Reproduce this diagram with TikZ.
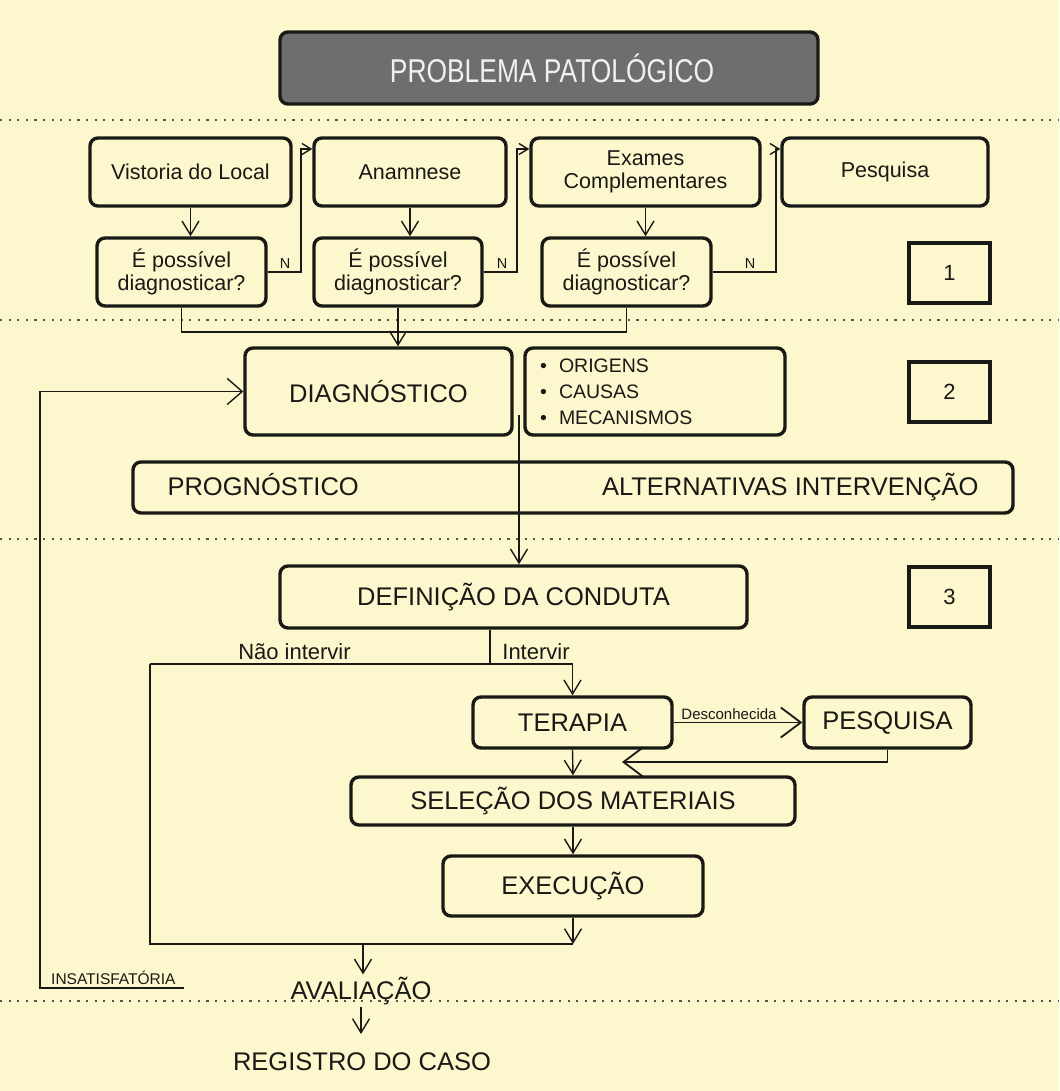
\documentclass[tikz,border=0pt]{standalone}
\usepackage{fontspec}
\setmainfont{Liberation Sans}
\newfontfamily\condfont[FakeStretch=0.8]{Liberation Sans}
\usetikzlibrary{arrows.meta,calc}
\definecolor{bg}{RGB}{252,247,205}
\definecolor{ink}{RGB}{25,25,22}
\definecolor{titlegray}{RGB}{110,110,110}
\definecolor{dotc}{RGB}{85,85,80}
\begin{document}
\begin{tikzpicture}[x=1pt,y=-1pt,
  box/.style={draw=ink, line width=3.4pt, rounded corners=8pt, align=center, inner sep=0pt, text=ink},
  numbox/.style={draw=ink, line width=3.4pt, inner sep=0pt, minimum width=81pt, minimum height=60pt, font=\fontsize{22}{24}\selectfont, text=ink},
  big/.style={font=\fontsize{25.5}{28}\selectfont},
  mid/.style={font=\fontsize{21.5}{23}\selectfont},
  lbl/.style={text=ink, inner sep=1pt},
  conn/.style={draw=ink, line width=1.4pt},
  arr/.style={conn, -{Straight Barb[length=14pt,width=17pt]}},
  arrsmall/.style={conn, -{Straight Barb[length=9pt,width=11pt]}},
  arrmid/.style={conn, -{Straight Barb[length=15pt,width=26pt]}},
  arrbig/.style={conn, line width=1.8pt, -{Straight Barb[length=20pt,width=30pt]}},
  dotline/.style={draw=dotc, line width=2.2pt, dash pattern=on 2.2pt off 6.4pt}
]
\useasboundingbox (0,0) rectangle (1059,1091);
\fill[bg] (0,0) rectangle (1059,1091);

% separators
\draw[dotline] (0,120) -- (1059,120);
\draw[dotline] (0,320) -- (1059,320);
\draw[dotline] (0,539) -- (1059,539);
\draw[dotline] (0,1001) -- (1059,1001);

% title
\node[box, fill=titlegray, text=white!94!black, minimum width=538pt, minimum height=72pt,
      font=\condfont\fontsize{33}{35}\selectfont] (title) at (549,68) {\hspace*{6pt}PROBLEMA PATOLÓGICO};

% row 1
\node[box, mid, minimum width=201pt, minimum height=68pt] (vis) at (190.5,172) {Vistoria do Local};
\node[box, mid, minimum width=192pt, minimum height=68pt] (ana) at (410,172) {Anamnese};
\node[box, mid, minimum width=229pt, minimum height=68pt] (exa) at (645.5,172) {Exames\\Complementares};
\node[box, mid, minimum width=206pt, minimum height=68pt] (pes) at (885,172) {Pesquisa};

\node[box, mid, minimum width=169pt, minimum height=68pt] (q1) at (181.5,272) {É possível\\diagnosticar?};
\node[box, mid, minimum width=168pt, minimum height=68pt] (q2) at (398,272) {É possível\\diagnosticar?};
\node[box, mid, minimum width=169pt, minimum height=68pt] (q3) at (626.5,272) {É possível\\diagnosticar?};

\node[numbox] (n1) at (949.5,273) {1};

\draw[arr] (vis.south) -- (vis.south |- q1.north);
\draw[arr] (ana.south) -- (ana.south |- q2.north);
\draw[arr] (exa.south) -- (exa.south |- q3.north);

\coordinate (b1) at (301,149);
\coordinate (b2) at (517,149);
\coordinate (b3) at (776,149);
\draw[arrsmall] (q1.east) -- (q1.east -| b1) -- (b1) -- (b1 -| ana.west);
\draw[arrsmall] (q2.east) -- (q2.east -| b2) -- (b2) -- (b2 -| exa.west);
\draw[arrsmall] (q3.east) -- (q3.east -| b3) -- (b3) -- (b3 -| pes.west);
\node[lbl, font=\fontsize{14.5}{15}\selectfont] (nl1) at (285,264) {N};
\node[lbl, font=\fontsize{14.5}{15}\selectfont] (nl2) at (502,264) {N};
\node[lbl, font=\fontsize{14.5}{15}\selectfont] (nl3) at (750,264) {N};

% merge to diagnostico
\coordinate (mrg) at (0,332);
\draw[conn] (q1.south) -- (q1.south |- mrg) -- (q3.south |- mrg) -- (q3.south);

% section 2
\node[box, big, minimum width=267pt, minimum height=87pt] (diag) at (378.5,391.5) {DIAGNÓSTICO};
\draw[arr] (q2.south) -- (q2.south |- diag.north);
\node[box, minimum width=260pt, minimum height=87pt, text width=230pt, align=left,
      font=\fontsize{19.5}{26}\selectfont] (orig) at (655,391.5)
  {\makebox[19pt][l]{\textbullet}ORIGENS\\\makebox[19pt][l]{\textbullet}CAUSAS\\\makebox[19pt][l]{\textbullet}MECANISMOS};
\node[numbox] (n2) at (949.5,392) {2};

\node[box, big, minimum width=880pt, minimum height=51pt] (prog) at (573,487.5)
  {\makebox[811pt]{PROGNÓSTICO\hfill ALTERNATIVAS INTERVENÇÃO}};

% section 3
\node[box, big, minimum width=467pt, minimum height=62pt] (def) at (513.5,597) {DEFINIÇÃO DA CONDUTA};
\node[numbox] (n3) at (949.5,597) {3};
\coordinate (dstart) at (519,415);
\draw[arr] (dstart) -- (dstart |- def.north);

\node[box, big, minimum width=199pt, minimum height=51pt] (ter) at (572.5,722.5) {TERAPIA};
\node[box, big, minimum width=167pt, minimum height=51pt] (pes2) at (887.5,722.5) {PESQUISA};
\node[box, big, minimum width=444pt, minimum height=48pt] (sel) at (573,801) {SELEÇÃO DOS MATERIAIS};
\node[box, big, minimum width=260pt, minimum height=60pt] (exe) at (573,886) {EXECUÇÃO};

\coordinate (jl) at (150,664);
\coordinate (jd) at (490,664);
\coordinate (jb) at (150,944);
\draw[conn] (def.south -| jd) -- (jd);
\draw[arr] (jl) -- (jl -| ter.north) -- (ter.north);
\node[lbl, font=\fontsize{22}{24}\selectfont, anchor=base] (nao) at (294.5,659) {Não intervir};
\node[lbl, font=\fontsize{22}{24}\selectfont, anchor=base] (int) at (536,659) {Intervir};

\draw[arrbig] (ter.east) -- node[lbl, pos=0.43, above, font=\fontsize{15}{16}\selectfont, inner sep=1.5pt] (desc) {Desconhecida} (pes2.west);
\coordinate (ret) at (622,762);
\draw[arrbig] (pes2.south) -- (pes2.south |- ret) -- (ret);
\draw[arr] (ter.south) -- (sel.north);
\draw[arr] (sel.south) -- (exe.north);
\draw[arr] (exe.south) -- (exe.south |- jb);
\draw[conn] (jl) -- (jb) -- (jb -| exe.south);

% evaluation
\node[lbl, big, anchor=base, inner sep=2pt] (aval) at (361,999) {AVALIAÇÃO};
\coordinate (ev) at (363,944);
\draw[arr] (ev) -- (ev |- aval.north);
\node[lbl, big, anchor=base, inner sep=2pt] (reg) at (362,1070) {REGISTRO DO CASO};
\draw[arr, shorten >=16pt] (aval.south) -- (aval.south |- reg.north);

% feedback
\coordinate (insend) at (184,988);
\node[lbl, font=\fontsize{15.5}{16}\selectfont, anchor=base west] (insat) at (50,984) {INSATISFATÓRIA};
\draw[arrmid] (insend) -- (40,988) -- (40,391.5) -- (diag.west);
\end{tikzpicture}
\end{document}
